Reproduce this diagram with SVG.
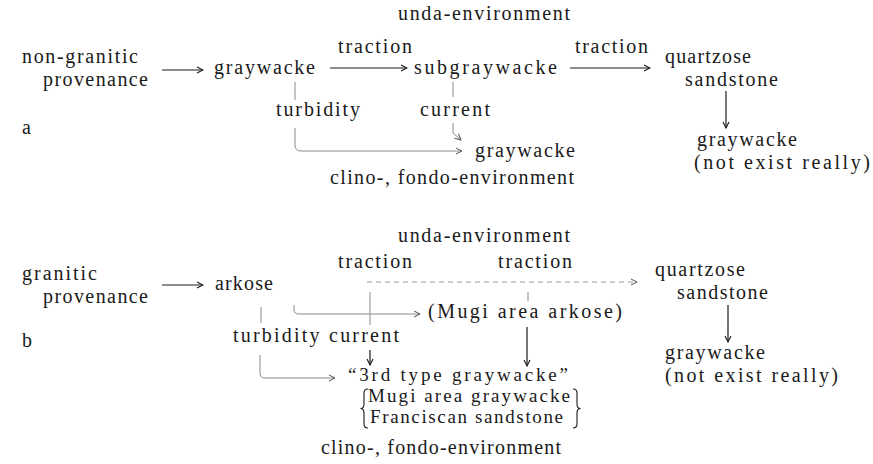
<svg xmlns="http://www.w3.org/2000/svg" width="873" height="464" viewBox="0 0 873 464">
<style>
text{font-family:"Liberation Serif","Times New Roman",serif;font-size:20px;fill:#1a1a1a}
.sm{font-size:19px}
.ar{fill:none;stroke:#1a1a1a;stroke-width:1.2}
.gr{fill:none;stroke:#8a8a8a;stroke-width:1}
.dt{fill:none;stroke:#999;stroke-width:1;stroke-dasharray:5 4}
</style>
<defs>
<marker id="hk" markerWidth="8" markerHeight="8" refX="7" refY="4" orient="auto" markerUnits="userSpaceOnUse">
<path d="M1,1 L7,4 L1,7" fill="none" stroke="#1a1a1a" stroke-width="1.1"/>
</marker>
<marker id="hg" markerWidth="8" markerHeight="8" refX="7" refY="4" orient="auto" markerUnits="userSpaceOnUse">
<path d="M1,1 L7,4 L1,7" fill="none" stroke="#555" stroke-width="1"/>
</marker>
</defs>
<rect width="873" height="464" fill="#fff"/>

<!-- Part a nodes -->
<g id="a-label"><text x="22" y="134">a</text></g>
<g id="a-unda"><text x="398" y="20" textLength="172" lengthAdjust="spacing">unda-environment</text></g>
<g id="a-provenance"><text><tspan x="22" y="63" textLength="116" lengthAdjust="spacing">non-granitic</tspan><tspan x="43" y="85.5" textLength="105" lengthAdjust="spacing">provenance</tspan></text></g>
<g id="a-graywacke"><text x="214" y="74" textLength="101" lengthAdjust="spacing">graywacke</text></g>
<g id="a-traction1"><text x="338" y="53" textLength="74" lengthAdjust="spacing">traction</text></g>
<g id="a-subgraywacke"><text x="414" y="74" textLength="143" lengthAdjust="spacing">subgraywacke</text></g>
<g id="a-traction2"><text x="575" y="53" textLength="73" lengthAdjust="spacing">traction</text></g>
<g id="a-quartzose"><text><tspan x="665" y="63" textLength="86" lengthAdjust="spacing">quartzose</tspan><tspan x="685" y="85.5" textLength="93" lengthAdjust="spacing">sandstone</tspan></text></g>
<g id="a-graywacke-ne"><text><tspan x="697" y="146" textLength="100" lengthAdjust="spacing">graywacke</tspan><tspan x="694" y="168.5" textLength="176" lengthAdjust="spacing">(not exist really)</tspan></text></g>
<g id="a-turbidity"><text x="276" y="116" textLength="84" lengthAdjust="spacing">turbidity</text></g>
<g id="a-current"><text x="420" y="116" textLength="70" lengthAdjust="spacing">current</text></g>
<g id="a-graywacke2"><text x="475" y="157" textLength="100" lengthAdjust="spacing">graywacke</text></g>
<g id="a-clino"><text x="330" y="184" textLength="244" lengthAdjust="spacing">clino-, fondo-environment</text></g>

<!-- Part b nodes -->
<g id="b-label"><text x="22" y="347">b</text></g>
<g id="b-unda"><text x="398" y="242" textLength="172" lengthAdjust="spacing">unda-environment</text></g>
<g id="b-traction1"><text x="338" y="268" textLength="74" lengthAdjust="spacing">traction</text></g>
<g id="b-traction2"><text x="498" y="268" textLength="74" lengthAdjust="spacing">traction</text></g>
<g id="b-provenance"><text><tspan x="22" y="280" textLength="75" lengthAdjust="spacing">granitic</tspan><tspan x="43" y="302.5" textLength="105" lengthAdjust="spacing">provenance</tspan></text></g>
<g id="b-arkose"><text x="215" y="290" textLength="58" lengthAdjust="spacing">arkose</text></g>
<g id="b-mugi-arkose"><text x="428" y="318" textLength="194" lengthAdjust="spacing">(Mugi area arkose)</text></g>
<g id="b-turbidity"><text x="233" y="342" textLength="166" lengthAdjust="spacing">turbidity current</text></g>
<g id="b-3rd"><text class="sm"><tspan x="348" y="381" textLength="220" lengthAdjust="spacing">“3rd type graywacke”</tspan><tspan x="368" y="402.2" textLength="202" lengthAdjust="spacing">Mugi area graywacke</tspan><tspan x="370" y="423.4" textLength="193" lengthAdjust="spacing">Franciscan sandstone</tspan></text>
<path d="M368,389 Q364,389 364,393 V404 Q364,408.5 360.5,408.5 Q364,408.5 364,413 V424 Q364,428 368,428" fill="none" stroke="#1a1a1a" stroke-width="1.1"/>
<path d="M573,389 Q577,389 577,393 V404 Q577,408.5 580.5,408.5 Q577,408.5 577,413 V424 Q577,428 573,428" fill="none" stroke="#1a1a1a" stroke-width="1.1"/>
</g>
<g id="b-clino"><text x="321" y="454" textLength="240" lengthAdjust="spacing">clino-, fondo-environment</text></g>
<g id="b-quartzose"><text><tspan x="655" y="276" textLength="90" lengthAdjust="spacing">quartzose</tspan><tspan x="677" y="298.5" textLength="91" lengthAdjust="spacing">sandstone</tspan></text></g>
<g id="b-graywacke-ne"><text><tspan x="665" y="359" textLength="100" lengthAdjust="spacing">graywacke</tspan><tspan x="665" y="381.5" textLength="173" lengthAdjust="spacing">(not exist really)</tspan></text></g>

<!-- Connectors -->
<g id="connectors">
<line class="ar" x1="162" y1="70" x2="203" y2="70" marker-end="url(#hk)"/>
<line class="ar" x1="330" y1="68" x2="407" y2="68" marker-end="url(#hk)"/>
<line class="ar" x1="570" y1="68" x2="650" y2="68" marker-end="url(#hk)"/>
<line class="ar" x1="726" y1="91" x2="726" y2="128" marker-end="url(#hk)"/>
<path class="gr" d="M295,82 V100"/>
<path class="gr" d="M295,128 V145 Q295,151 301,151 H462" marker-end="url(#hg)"/>
<path class="gr" d="M453,82 V97"/>
<path class="gr" d="M453,123 V133 L461,140" marker-end="url(#hg)"/>

<line class="ar" x1="162" y1="285" x2="203" y2="285" marker-end="url(#hk)"/>
<path class="dt" d="M367,282 H637" marker-end="url(#hg)"/>
<path class="gr" d="M370,292 V325"/>
<path class="gr" d="M528,292 V301"/>
<path class="gr" d="M294,305 V310 Q294,314 299,314 H420" marker-end="url(#hg)"/>
<path class="gr" d="M261,307 V323"/>
<path class="gr" d="M260,355 V373 Q260,378 265,378 H335" marker-end="url(#hg)"/>
<line class="ar" x1="370" y1="350" x2="370" y2="365" marker-end="url(#hk)"/>
<line class="ar" x1="527" y1="327" x2="527" y2="366" marker-end="url(#hk)"/>
<line class="ar" x1="728" y1="305" x2="728" y2="342" marker-end="url(#hk)"/>
</g>
</svg>
